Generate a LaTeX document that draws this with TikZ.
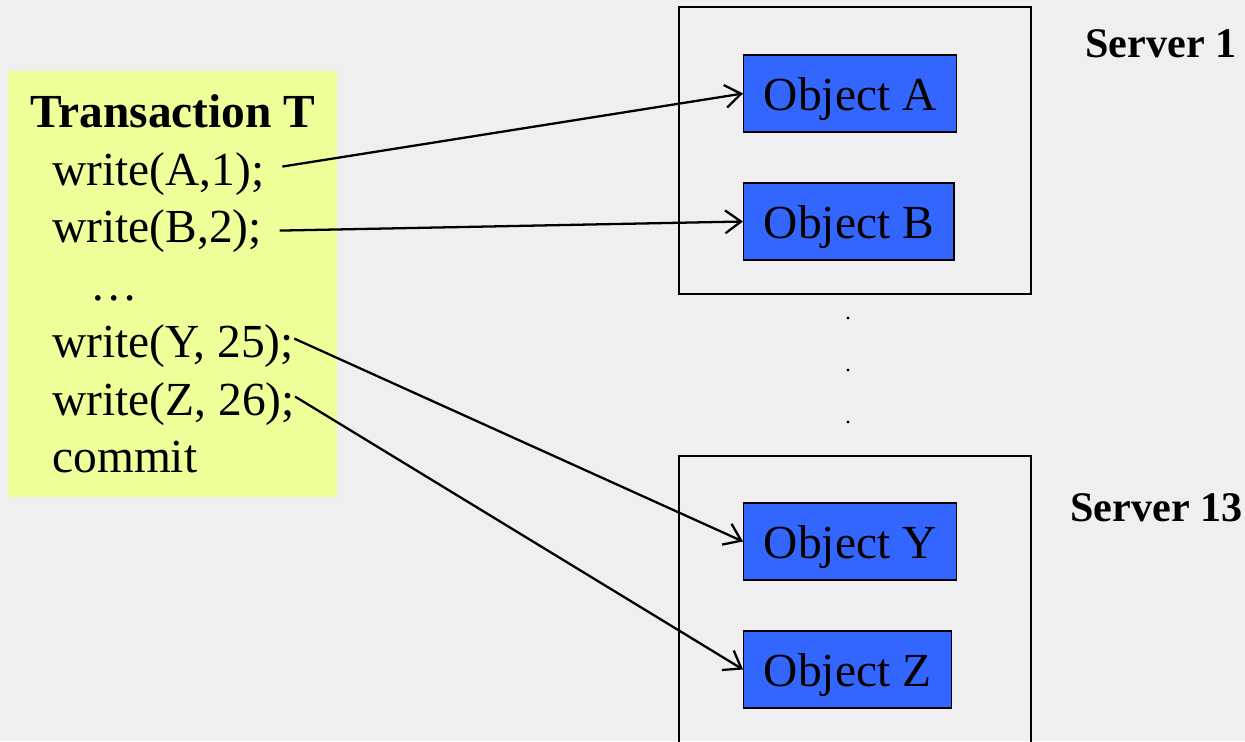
\documentclass[tikz,border=0pt]{standalone}
\usepackage{fontspec}
\setmainfont{Liberation Serif}
\usepackage{xcolor}
\usetikzlibrary{arrows.meta, positioning, calc}

\definecolor{bggray}{RGB}{239,239,239}
\definecolor{txyellow}{RGB}{238,255,153}
\definecolor{objblue}{RGB}{51,102,255}

\begin{document}
\begin{tikzpicture}[
	  x=0.02cm, y=-0.02cm,
	  txbox/.style={
	    fill=txyellow,
	    minimum width=187pt,
	    minimum height=242.5pt,
	    inner sep=0pt
	  },
	  srvbox/.style={
	    draw,
	    line width=1.1pt,
	    minimum width=200pt,
	    inner sep=0pt
	  },
	  objbox/.style={
	    draw,
	    line width=0.8pt,
	    fill=objblue,
	    anchor=west,
	    minimum height=44pt,
	    inner xsep=11.5pt,
	    inner ysep=0pt,
	    text height=25pt,
	    text depth=5.5pt,
	    font=\fontsize{27}{31}\selectfont
	  },
	  code/.style={anchor=base west, inner sep=0pt, font=\fontsize{27}{31}\selectfont},
	  title/.style={anchor=base west, inner sep=0pt, font=\fontsize{27}{31}\selectfont\bfseries},
	  srvlabel/.style={anchor=base west, inner sep=0pt, font=\fontsize{24}{28}\selectfont\bfseries},
	  arrow/.style={-{Straight Barb[length=9pt,width=13pt,line width=1.3pt]}, line width=1.3pt}
	]
	
	\path[use as bounding box, fill=bggray] (0,0) rectangle (1245,741);
	
	% Transaction
	\node[txbox, anchor=north west] (tx) at (8,71) {};
	\node[title] (ttl) at (30,127) {Transaction T};
	\node[code] (wA) at (52,185) {write(A,1);};
	\node[code] (wB) at (52,242) {write(B,2);};
	\node[code] (dots) at (90,300) {…};
	\node[code] (wY) at (52,357) {write(Y, 25);};
	\node[code] (wZ) at (52,415) {write(Z, 26);};
	\node[code] (cmt) at (52,472) {commit};
	
	% Servers
	\node[srvbox, minimum height=163pt] (srv1) at (855,150.5) {};
	\node[srvbox, minimum height=180pt, anchor=north] (srv13) at (855,455) {};
	\node[srvlabel] (lbl1) at (1085,57) {Server 1};
	\node[srvlabel] (lbl13) at (1070,521) {Server 13};
	
	\node[objbox] (objA) at (743,93.5) {Object A};
	\node[objbox] (objB) at (743,221.5) {Object B};
	\node[objbox] (objY) at (743,541.5) {Object Y};
	\node[objbox] (objZ) at (743,669.5) {Object Z};
	
	% vertical dots
	\foreach \y in {318,370,422}
	  \fill (848,\y) circle (0.9pt);
	
	% Writes
	\draw[arrow] ([xshift=10pt,yshift=4pt]wA.east) -- (objA.west);
	\draw[arrow] ([xshift=10pt]wB.east) -- (objB.west);
	\draw[arrow] ([yshift=4pt]wY.east) -- (objY.west);
	\draw[arrow] ([yshift=4pt]wZ.east) -- (objZ.west);
	
	\end{tikzpicture}
\end{document}
